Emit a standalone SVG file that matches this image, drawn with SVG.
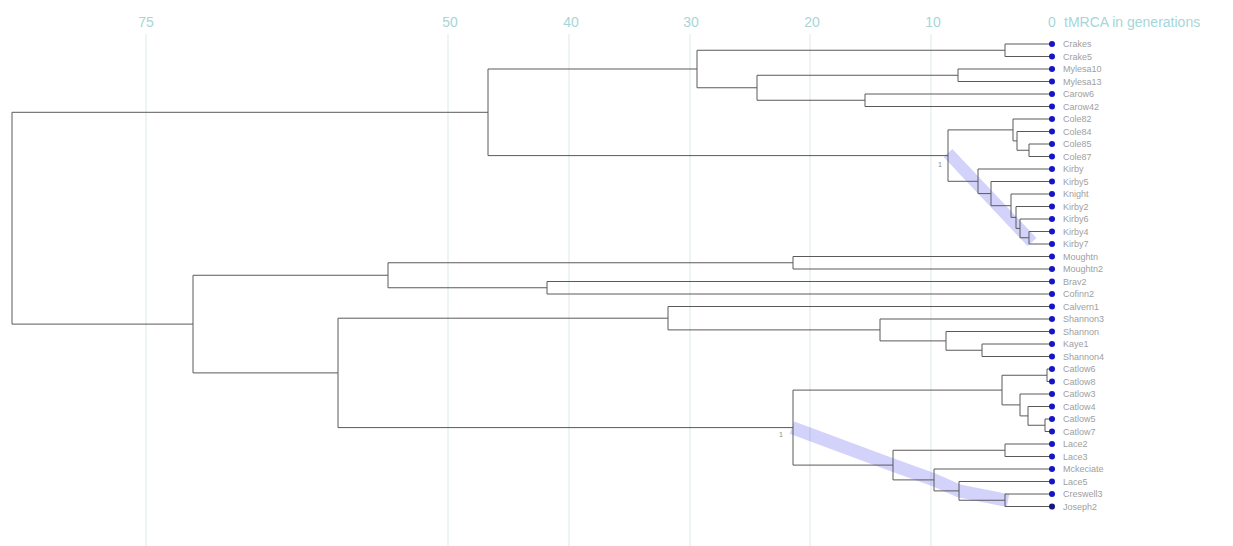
<svg xmlns="http://www.w3.org/2000/svg" width="1233" height="546" viewBox="0 0 1233 546">
<style>
.grid{stroke:#dde9ea;stroke-width:1}
.ax{font-family:"Liberation Sans",Arial,sans-serif;font-size:14px;fill:#a6d6d8}
.br{fill:none;stroke:#5a5a5a;stroke-width:1}
.band{fill:none;stroke:#5050f0;stroke-opacity:0.26;stroke-linejoin:round}
.dot{fill:#1515c8}
.lbl{font-family:"Liberation Sans",Arial,sans-serif;font-size:9px;fill:#a0a0a0}
.ann{font-family:"Liberation Sans",Arial,sans-serif;font-size:7px;fill:#888}
</style>
<rect width="1233" height="546" fill="#ffffff"/>
<g id="axis">
<path class="grid" d="M146 34V546M448 34V546M569 34V546M690 34V546M810 34V546M931 34V546"/>
<text class="ax" x="146" y="27" text-anchor="middle">75</text>
<text class="ax" x="450" y="27" text-anchor="middle">50</text>
<text class="ax" x="571" y="27" text-anchor="middle">40</text>
<text class="ax" x="691" y="27" text-anchor="middle">30</text>
<text class="ax" x="812" y="27" text-anchor="middle">20</text>
<text class="ax" x="933" y="27" text-anchor="middle">10</text>
<text class="ax" x="1052" y="27" text-anchor="middle">0</text>
<text class="ax" x="1064" y="27">tMRCA in generations</text>
</g>
<g id="highlights">
<path class="band" stroke-width="12" d="M948 153L1032 242"/>
<path class="band" stroke-width="13" d="M792 427.6L893 465.1L934 479.9L959 490.9L1008 500.6"/>
</g>
<g id="connectors">
<path class="br" d="M12 112.3V324.1M12 112.3H488M12 324.1H193"/>
<path class="br" d="M488 69V155.6M488 69H697M488 155.6H948"/>
<path class="br" d="M697 50.25V87.75M697 50.25H1005M697 87.75H757"/>
<path class="br" d="M1005 44V56.5M1005 44H1052M1005 56.5H1052"/>
<path class="br" d="M757 75.25V100.25M757 75.25H958M757 100.25H865"/>
<path class="br" d="M958 69V81.5M958 69H1052M958 81.5H1052"/>
<path class="br" d="M865 94V106.5M865 94H1052M865 106.5H1052"/>
<path class="br" d="M948 129.9V181.3M948 129.9H1013M948 181.3H978"/>
<path class="br" d="M1013 119V140.9M1013 119H1052M1013 140.9H1017"/>
<path class="br" d="M1017 131.5V150.25M1017 131.5H1052M1017 150.25H1029"/>
<path class="br" d="M1029 144V156.5M1029 144H1052M1029 156.5H1052"/>
<path class="br" d="M978 169V193.6M978 169H1052M978 193.6H991"/>
<path class="br" d="M991 181.5V205.7M991 181.5H1052M991 205.7H1011"/>
<path class="br" d="M1011 194V217.4M1011 194H1052M1011 217.4H1016"/>
<path class="br" d="M1016 206.5V228.4M1016 206.5H1052M1016 228.4H1020"/>
<path class="br" d="M1020 219V237.75M1020 219H1052M1020 237.75H1029"/>
<path class="br" d="M1029 231.5V244M1029 231.5H1052M1029 244H1052"/>
<path class="br" d="M193 275.25V372.9M193 275.25H388M193 372.9H338"/>
<path class="br" d="M388 262.75V287.75M388 262.75H793M388 287.75H547"/>
<path class="br" d="M793 256.5V269M793 256.5H1052M793 269H1052"/>
<path class="br" d="M547 281.5V294M547 281.5H1052M547 294H1052"/>
<path class="br" d="M338 318.2V427.6M338 318.2H668M338 427.6H793"/>
<path class="br" d="M668 306.5V329.9M668 306.5H1052M668 329.9H880"/>
<path class="br" d="M880 319V340.9M880 319H1052M880 340.9H946"/>
<path class="br" d="M946 331.5V350.25M946 331.5H1052M946 350.25H982"/>
<path class="br" d="M982 344V356.5M982 344H1052M982 356.5H1052"/>
<path class="br" d="M793 390.1V465.1M793 390.1H1002M793 465.1H893"/>
<path class="br" d="M1002 375.25V404.9M1002 375.25H1047M1002 404.9H1020"/>
<path class="br" d="M1047 369V381.5M1047 369H1052M1047 381.5H1052"/>
<path class="br" d="M1020 394V415.9M1020 394H1052M1020 415.9H1028"/>
<path class="br" d="M1028 406.5V425.25M1028 406.5H1052M1028 425.25H1045"/>
<path class="br" d="M1045 419V431.5M1045 419H1052M1045 431.5H1052"/>
<path class="br" d="M893 450.25V479.9M893 450.25H1005M893 479.9H934"/>
<path class="br" d="M1005 444V456.5M1005 444H1052M1005 456.5H1052"/>
<path class="br" d="M934 469V490.9M934 469H1052M934 490.9H959"/>
<path class="br" d="M959 481.5V500.25M959 481.5H1052M959 500.25H1005"/>
<path class="br" d="M1005 494V506.5M1005 494H1052M1005 506.5H1052"/>
<text class="ann" x="938" y="167">1</text>
<text class="ann" x="779" y="437">1</text>
</g>
<g id="leaf-0"><circle class="dot" cx="1052" cy="44" r="3"/><text class="lbl" x="1063" y="47">Crakes</text></g>
<g id="leaf-1"><circle class="dot" cx="1052" cy="56.5" r="3"/><text class="lbl" x="1063" y="59.5">Crake5</text></g>
<g id="leaf-2"><circle class="dot" cx="1052" cy="69" r="3"/><text class="lbl" x="1063" y="72">Mylesa10</text></g>
<g id="leaf-3"><circle class="dot" cx="1052" cy="81.5" r="3"/><text class="lbl" x="1063" y="84.5">Mylesa13</text></g>
<g id="leaf-4"><circle class="dot" cx="1052" cy="94" r="3"/><text class="lbl" x="1063" y="97">Carow6</text></g>
<g id="leaf-5"><circle class="dot" cx="1052" cy="106.5" r="3"/><text class="lbl" x="1063" y="109.5">Carow42</text></g>
<g id="leaf-6"><circle class="dot" cx="1052" cy="119" r="3"/><text class="lbl" x="1063" y="122">Cole82</text></g>
<g id="leaf-7"><circle class="dot" cx="1052" cy="131.5" r="3"/><text class="lbl" x="1063" y="134.5">Cole84</text></g>
<g id="leaf-8"><circle class="dot" cx="1052" cy="144" r="3"/><text class="lbl" x="1063" y="147">Cole85</text></g>
<g id="leaf-9"><circle class="dot" cx="1052" cy="156.5" r="3"/><text class="lbl" x="1063" y="159.5">Cole87</text></g>
<g id="leaf-10"><circle class="dot" cx="1052" cy="169" r="3"/><text class="lbl" x="1063" y="172">Kirby</text></g>
<g id="leaf-11"><circle class="dot" cx="1052" cy="181.5" r="3"/><text class="lbl" x="1063" y="184.5">Kirby5</text></g>
<g id="leaf-12"><circle class="dot" cx="1052" cy="194" r="3"/><text class="lbl" x="1063" y="197">Knight</text></g>
<g id="leaf-13"><circle class="dot" cx="1052" cy="206.5" r="3"/><text class="lbl" x="1063" y="209.5">Kirby2</text></g>
<g id="leaf-14"><circle class="dot" cx="1052" cy="219" r="3"/><text class="lbl" x="1063" y="222">Kirby6</text></g>
<g id="leaf-15"><circle class="dot" cx="1052" cy="231.5" r="3"/><text class="lbl" x="1063" y="234.5">Kirby4</text></g>
<g id="leaf-16"><circle class="dot" cx="1052" cy="244" r="3"/><text class="lbl" x="1063" y="247">Kirby7</text></g>
<g id="leaf-17"><circle class="dot" cx="1052" cy="256.5" r="3"/><text class="lbl" x="1063" y="259.5">Moughtn</text></g>
<g id="leaf-18"><circle class="dot" cx="1052" cy="269" r="3"/><text class="lbl" x="1063" y="272">Moughtn2</text></g>
<g id="leaf-19"><circle class="dot" cx="1052" cy="281.5" r="3"/><text class="lbl" x="1063" y="284.5">Brav2</text></g>
<g id="leaf-20"><circle class="dot" cx="1052" cy="294" r="3"/><text class="lbl" x="1063" y="297">Cofinn2</text></g>
<g id="leaf-21"><circle class="dot" cx="1052" cy="306.5" r="3"/><text class="lbl" x="1063" y="309.5">Calvern1</text></g>
<g id="leaf-22"><circle class="dot" cx="1052" cy="319" r="3"/><text class="lbl" x="1063" y="322">Shannon3</text></g>
<g id="leaf-23"><circle class="dot" cx="1052" cy="331.5" r="3"/><text class="lbl" x="1063" y="334.5">Shannon</text></g>
<g id="leaf-24"><circle class="dot" cx="1052" cy="344" r="3"/><text class="lbl" x="1063" y="347">Kaye1</text></g>
<g id="leaf-25"><circle class="dot" cx="1052" cy="356.5" r="3"/><text class="lbl" x="1063" y="359.5">Shannon4</text></g>
<g id="leaf-26"><circle class="dot" cx="1052" cy="369" r="3"/><text class="lbl" x="1063" y="372">Catlow6</text></g>
<g id="leaf-27"><circle class="dot" cx="1052" cy="381.5" r="3"/><text class="lbl" x="1063" y="384.5">Catlow8</text></g>
<g id="leaf-28"><circle class="dot" cx="1052" cy="394" r="3"/><text class="lbl" x="1063" y="397">Catlow3</text></g>
<g id="leaf-29"><circle class="dot" cx="1052" cy="406.5" r="3"/><text class="lbl" x="1063" y="409.5">Catlow4</text></g>
<g id="leaf-30"><circle class="dot" cx="1052" cy="419" r="3"/><text class="lbl" x="1063" y="422">Catlow5</text></g>
<g id="leaf-31"><circle class="dot" cx="1052" cy="431.5" r="3"/><text class="lbl" x="1063" y="434.5">Catlow7</text></g>
<g id="leaf-32"><circle class="dot" cx="1052" cy="444" r="3"/><text class="lbl" x="1063" y="447">Lace2</text></g>
<g id="leaf-33"><circle class="dot" cx="1052" cy="456.5" r="3"/><text class="lbl" x="1063" y="459.5">Lace3</text></g>
<g id="leaf-34"><circle class="dot" cx="1052" cy="469" r="3"/><text class="lbl" x="1063" y="472">Mckeciate</text></g>
<g id="leaf-35"><circle class="dot" cx="1052" cy="481.5" r="3"/><text class="lbl" x="1063" y="484.5">Lace5</text></g>
<g id="leaf-36"><circle class="dot" cx="1052" cy="494" r="3"/><text class="lbl" x="1063" y="497">Creswell3</text></g>
<g id="leaf-37"><circle cx="1052" cy="506.5" r="3" fill="#161680"/><text class="lbl" x="1063" y="509.5">Joseph2</text></g>
</svg>
